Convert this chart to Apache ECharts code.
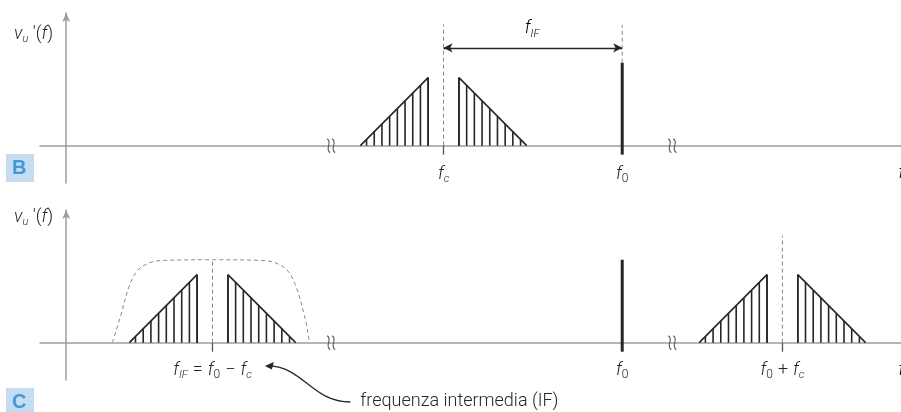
<!DOCTYPE html>
<html>
<head>
<meta charset="utf-8">
<script src="https://cdn.jsdelivr.net/npm/echarts@6/dist/echarts.min.js"></script>
<style>
html,body{margin:0;padding:0;background:#fff}
#chart{width:901px;height:412px}
</style>
</head>
<body>
<div id="chart"></div>
<script>
// frequency in arbitrary units, amplitude normalised to the carrier (=1)
const xRange = [-3.4, 108.4]
const yRange = [-0.45, 1.6]

// panel B: received signal around fc and the local oscillator f0
const fcB = 49
const f0 = 72.2
const fEnd = [108.45, -0.205]   // clipped "f" at the right edge, top of the text
const breaksAt = [34.4, 78.7]

// panel C: mixer products
const fIF = 19
const fSum = 93

// one sideband pair, described from its centre outward
const stripeOffsets = [2, 3, 4, 5, 6, 7, 8, 9, 10]
const stripeHeights = [0.82, 0.73, 0.63, 0.54, 0.45, 0.35, 0.26, 0.17, 0.07]
const sideEdge = 10.8

const carrierHeight = 1.0
const guideTopB = 1.46
const arrowLevelB = 1.18
const guideTopC = 1.29

// IF filter pass band (dashed) in panel C
const filterX = [6.0, 7.0, 8.3, 9.6, 12.2, 19, 25.8, 28.4, 29.7, 31.0, 31.6]
const filterY = [0, 0.3, 0.71, 0.9, 0.99, 1.0, 0.99, 0.9, 0.71, 0.3, 0]

// annotation anchors
const fIFLabelAt = [60.5, 1.41]
const noteTip = [25.8, -0.28]
const noteTail = [36.9, -0.715]
const noteTextAt = [38.2, -0.71]
const noteText = 'frequenza intermedia (IF)'

const FONT = 'Roboto'
const INK = '#262626'
const AXIS = '#9d9d9d'
const GUIDE = '#8a8a8a'

const rich = {
  i: {fontFamily: FONT, fontWeight: 300, fontStyle: 'italic', fontSize: 18, lineHeight: 22, color: INK},
  n: {fontFamily: FONT, fontWeight: 300, fontSize: 18, lineHeight: 22, color: INK},
  o: {fontFamily: FONT, fontWeight: 300, fontSize: 18, lineHeight: 22, color: INK, padding: [0, 5, 0, 5]},
  s: {fontFamily: FONT, fontWeight: 300, fontStyle: 'italic', fontSize: 11, lineHeight: 8, verticalAlign: 'bottom', color: INK},
  d: {fontFamily: FONT, fontWeight: 300, fontSize: 12, lineHeight: 8, verticalAlign: 'bottom', color: INK}
}

const lblFc = '{i|f}{s|c}'
const lblF0 = '{i|f}{d|0}'
const lblF = '{i|f}'
const lblFIF = '{i|f}{s|IF}{o|=}{i|f}{d|0}{o|−}{i|f}{s|c}'
const lblFSum = '{i|f}{d|0}{o|+}{i|f}{s|c}'
const lblV = "{i|v}{s|u}{n| '(}{i|f}{n|)}"

const ticksB = [fcB, f0]
const labelsB = [lblFc, lblF0]
const ticksC = [fIF, f0, fSum]
const labelsC = [lblFIF, lblF0, lblFSum]

function pick(ticks, labels) {
  return v => {
    let k = 0
    ticks.forEach((t, j) => { if (Math.abs(t - v) < Math.abs(ticks[k] - v)) k = j })
    return labels[k]
  }
}

function xAxisFor(gi, ticks, labels, tickAt, margin) {
  return {
    type: 'value', gridIndex: gi, min: xRange[0], max: xRange[1],
    axisLine: {lineStyle: {color: AXIS, width: 1.5}},
    axisTick: {show: true, customValues: tickAt, length: 9, lineStyle: {color: '#555', width: 1.3}},
    axisLabel: {customValues: ticks, formatter: pick(ticks, labels), rich: rich, margin: margin},
    splitLine: {show: false}
  }
}
function yAxisFor(gi, gap) {
  return {
    type: 'value', gridIndex: gi, min: yRange[0], max: yRange[1],
    name: lblV, nameLocation: 'end', nameGap: gap,
    nameTextStyle: {align: 'right', verticalAlign: 'middle', padding: [0, 13, 0, 0], rich: rich},
    axisLine: {symbol: ['none', 'arrow'], symbolSize: [6, 9], lineStyle: {color: AXIS, width: 1.5}},
    axisTick: {show: false}, axisLabel: {show: false}, splitLine: {show: false}
  }
}

// triangle outlines and stripes for a sideband pair around centre c
function outlines(c, gi) {
  const o = stripeOffsets[0], h = stripeHeights[0]
  const left = [[c - sideEdge, 0], [c - o, h], [c - o, 0]]
  const right = [[c + o, 0], [c + o, h], [c + sideEdge, 0]]
  return [left, right].map(d => ({
    type: 'line', xAxisIndex: gi, yAxisIndex: gi, data: d, symbol: 'none',
    lineStyle: {color: INK, width: 1.6}, z: 4
  }))
}
function stripes(centres, gi) {
  const d = []
  centres.forEach(c => {
    stripeOffsets.forEach((o, k) => {
      d.push([c - o, stripeHeights[k]])
      d.push([c + o, stripeHeights[k]])
    })
  })
  return {
    type: 'custom', xAxisIndex: gi, yAxisIndex: gi, data: d, z: 4,
    renderItem: (p, api) => {
      const a = api.coord([api.value(0), 0]), b = api.coord([api.value(0), api.value(1)])
      return {type: 'line', shape: {x1: a[0], y1: a[1], x2: b[0], y2: b[1]}, style: {stroke: INK, lineWidth: 1.6}}
    }
  }
}
function carrier(gi) {
  return {
    type: 'custom', xAxisIndex: gi, yAxisIndex: gi, data: [[f0, carrierHeight]], z: 5,
    renderItem: (p, api) => {
      const a = api.coord([api.value(0), 0]), b = api.coord([api.value(0), api.value(1)])
      return {type: 'line', shape: {x1: a[0], y1: a[1] + 9, x2: b[0], y2: b[1]}, style: {stroke: INK, lineWidth: 3}}
    }
  }
}
// dashed guides: [x, from, to]
function guides(d, gi) {
  return {
    type: 'custom', xAxisIndex: gi, yAxisIndex: gi, data: d, z: 3,
    renderItem: (p, api) => {
      const a = api.coord([api.value(0), api.value(1)]), b = api.coord([api.value(0), api.value(2)])
      return {type: 'line', shape: {x1: a[0], y1: a[1], x2: b[0], y2: b[1]},
        style: {stroke: GUIDE, lineWidth: 1, lineDash: [4, 3]}}
    }
  }
}
function breaks(gi) {
  return {
    type: 'custom', xAxisIndex: gi, yAxisIndex: gi, data: breaksAt.map(x => [x, 0]), z: 5,
    renderItem: (p, api) => {
      const c = api.coord([api.value(0), api.value(1)])
      return {type: 'group', children: [-2.5, 2.5].map(dx => ({
        type: 'bezierCurve',
        shape: {x1: c[0] + dx - 1.5, y1: c[1] - 7, cpx1: c[0] + dx + 4.5, cpy1: c[1] - 3,
          cpx2: c[0] + dx - 4.5, cpy2: c[1] + 3, x2: c[0] + dx + 1.5, y2: c[1] + 7},
        style: {stroke: '#555', fill: null, lineWidth: 1.1}
      }))}
    }
  }
}
// axis name "f" at the right edge, half outside the picture
function axisEnd(gi) {
  return {
    type: 'custom', xAxisIndex: gi, yAxisIndex: gi, data: [fEnd], z: 6,
    renderItem: (p, api) => {
      const c = api.coord([api.value(0), api.value(1)])
      return {type: 'text', x: c[0], y: c[1], style: {text: lblF, rich: rich, align: 'center', verticalAlign: 'top'}}
    }
  }
}

const series = [
  ...outlines(fcB, 0),
  stripes([fcB], 0),
  carrier(0),
  guides([[fcB, 0, guideTopB], [f0, carrierHeight, guideTopB]], 0),
  breaks(0),
  axisEnd(0),
  {
    type: 'line', xAxisIndex: 0, yAxisIndex: 0, data: [], symbol: 'none',
    markLine: {
      silent: true, symbol: ['arrow', 'arrow'], symbolSize: [7, 9],
      lineStyle: {color: INK, width: 1.3, type: 'solid'}, label: {show: false},
      data: [[{coord: [fcB, arrowLevelB]}, {coord: [f0, arrowLevelB]}]]
    }
  },
  {
    type: 'custom', xAxisIndex: 0, yAxisIndex: 0, data: [fIFLabelAt], z: 6,
    renderItem: (p, api) => {
      const c = api.coord([api.value(0), api.value(1)])
      return {type: 'text', x: c[0], y: c[1], style: {text: '{i|f}{s|IF}', rich: rich, align: 'center', verticalAlign: 'middle'}}
    }
  },

  ...outlines(fIF, 1),
  ...outlines(fSum, 1),
  stripes([fIF, fSum], 1),
  carrier(1),
  guides([[fIF, 0, carrierHeight], [fSum, 0, guideTopC]], 1),
  breaks(1),
  axisEnd(1),
  {
    type: 'line', xAxisIndex: 1, yAxisIndex: 1, smooth: 0.35, symbol: 'none', z: 2,
    data: filterX.map((x, k) => [x, filterY[k]]),
    lineStyle: {color: GUIDE, width: 1, type: [4, 3]}
  },
  {
    type: 'custom', xAxisIndex: 1, yAxisIndex: 1, data: [[noteTip[0], noteTip[1], noteTail[0], noteTail[1]]], z: 6,
    renderItem: (p, api) => {
      const t = api.coord([api.value(0), api.value(1)]), e = api.coord([api.value(2), api.value(3)])
      const dx = e[0] - t[0]
      const n = api.coord(noteTextAt)
      return {type: 'group', children: [
        {type: 'bezierCurve', shape: {x1: t[0] + 4, y1: t[1], cpx1: t[0] + 0.45 * dx, cpy1: t[1] + 1,
          cpx2: e[0] - 0.45 * dx, cpy2: e[1], x2: e[0], y2: e[1]}, style: {stroke: INK, fill: null, lineWidth: 1.3}},
        {type: 'polygon', shape: {points: [[t[0], t[1]], [t[0] + 9, t[1] - 4], [t[0] + 7, t[1] + 3.5]]}, style: {fill: INK}},
        {type: 'text', x: n[0], y: n[1], style: {text: noteText, fontFamily: FONT, fontWeight: 300, fontSize: 18,
          fill: INK, align: 'left', verticalAlign: 'middle'}}
      ]}
    }
  }
]

const chart = echarts.init(document.getElementById('chart'), null, {renderer: 'canvas'})
chart.setOption({
  animation: false,
  grid: [
    {left: 40, right: 0, top: 13, height: 170},
    {left: 40, right: 0, top: 210, height: 170}
  ],
  xAxis: [xAxisFor(0, ticksB, labelsB, [fcB], -20), xAxisFor(1, ticksC, labelsC, [fIF, fSum], -21)],
  yAxis: [yAxisFor(0, -21), yAxisFor(1, -7)],
  graphic: [
    {type: 'rect', left: 6, top: 154, shape: {width: 28, height: 28}, style: {fill: '#c6dcf0'}},
    {type: 'text', left: 12, top: 158, style: {text: 'B', fontFamily: 'Liberation Sans', fontWeight: 'bold', fontSize: 20, fill: '#3f9ad8'}},
    {type: 'rect', left: 6, top: 388, shape: {width: 28, height: 28}, style: {fill: '#c6dcf0'}},
    {type: 'text', left: 12, top: 392, style: {text: 'C', fontFamily: 'Liberation Sans', fontWeight: 'bold', fontSize: 20, fill: '#3f9ad8'}}
  ],
  series: series
})
</script>
</body>
</html>
